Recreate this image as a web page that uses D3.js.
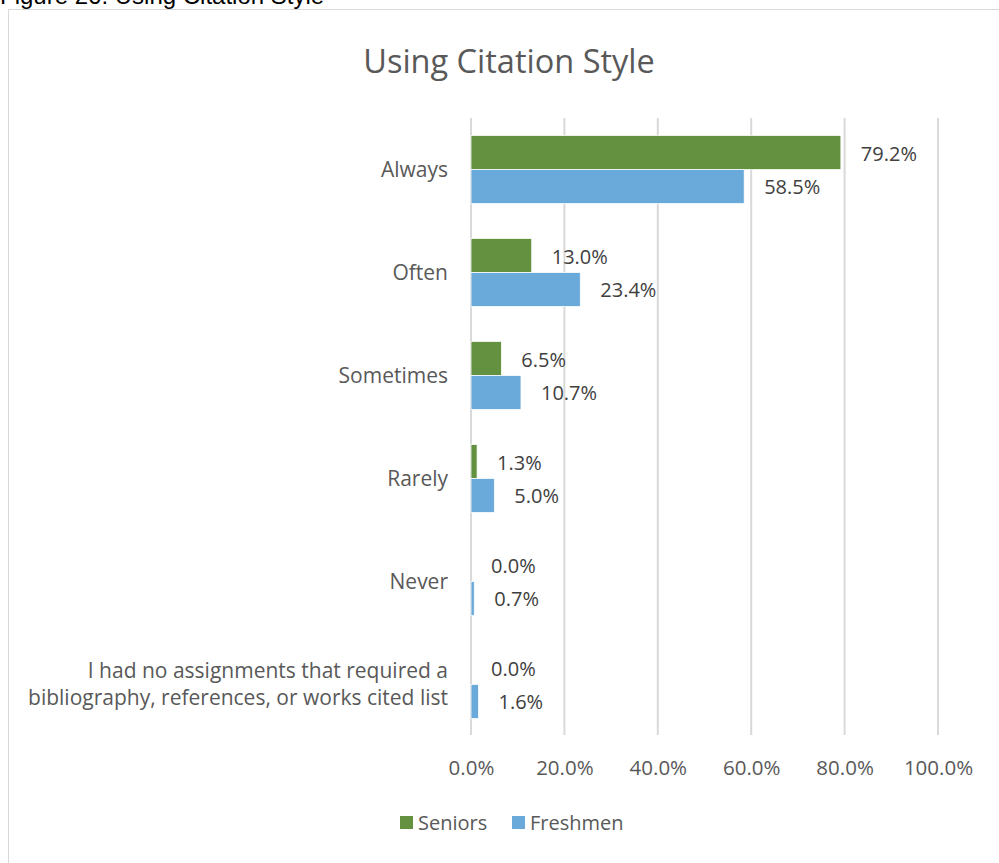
<!DOCTYPE html>
<html><head><meta charset="utf-8">
<script src="https://cdn.jsdelivr.net/npm/d3@7"></script>
<style>
html,body{margin:0;padding:0;background:#fff;}
svg{display:block;}
</style></head>
<body>
<svg id="chart" width="999" height="863"></svg>
<script>
const categories = ["Always","Often","Sometimes","Rarely","Never","I had no assignments that required a|bibliography, references, or works cited list"];
const seriesNames = ["Seniors","Freshmen"];
const seniors = [79.2, 13.0, 6.5, 1.3, 0.0, 0.0];
const freshmen = [58.5, 23.4, 10.7, 5.0, 0.7, 1.6];
const tickValues = [0, 20, 40, 60, 80, 100];
const colors = ["#63913F", "#6AAADB"];
const font = "'Open Sans', sans-serif";
const textColor = "#595959";

const svg = d3.select("#chart");

// caption (cut off at top)
svg.append("text").attr("x", 0).attr("y", 4)
  .attr("font-family", "'Liberation Sans', Arial, sans-serif").attr("font-size", 24)
  .attr("fill", "#000").text("Figure 26: Using Citation Style");

// chart border
svg.append("rect").attr("x", 8.5).attr("y", 9.5).attr("width", 1100).attr("height", 1000)
  .attr("fill", "none").attr("stroke", "#d9d9d9").attr("stroke-width", 1);

// title
svg.append("text").attr("x", 509).attr("y", 73).attr("text-anchor", "middle")
  .attr("font-family", font).attr("font-size", 32.5).attr("fill", textColor)
  .text("Using Citation Style");

const x = d3.scaleLinear().domain([0, 100]).range([471, 938]);
const y = d3.scaleBand().domain(categories).range([118, 736]).paddingInner(0.34).paddingOuter(0.17);
const ySub = d3.scaleBand().domain(seriesNames).range([0, y.bandwidth()]);

// gridlines
svg.append("g").selectAll("line").data(tickValues).join("line")
  .attr("x1", d => x(d)).attr("x2", d => x(d))
  .attr("y1", 118).attr("y2", 735)
  .attr("stroke", "#d9d9d9").attr("stroke-width", 2);

// x axis labels
const xAxis = d3.axisBottom(x).tickValues(tickValues).tickFormat(d => d.toFixed(1) + "%").tickSize(0).tickPadding(0);
const gx = svg.append("g").attr("transform", "translate(0,760)").call(xAxis);
gx.select(".domain").remove();
gx.selectAll("text").attr("font-family", font).attr("font-size", 20.5).attr("fill", textColor);

// y axis labels
const yAxis = d3.axisLeft(y).tickSize(0).tickPadding(0).tickFormat(() => "");
const gy = svg.append("g").attr("transform", "translate(448,0)").call(yAxis);
gy.select(".domain").remove();
gy.selectAll(".tick").each(function(d) {
  const lines = d.split("|");
  const t = d3.select(this).append("text").attr("text-anchor", "end")
    .attr("font-family", font).attr("font-size", 21).attr("fill", textColor)
    .attr("x", 0);
  const lh = 27;
  const y0 = -(lines.length - 1) * lh / 2;
  lines.forEach((l, i) => {
    t.append("tspan").attr("x", 0).attr("y", y0 + i * lh).attr("dy", "0.35em").text(l);
  });
});

// bars
const series = [seniors, freshmen];
series.forEach((vals, si) => {
  const g = svg.append("g");
  g.selectAll("rect").data(vals).join("rect")
    .attr("x", x(0))
    .attr("y", (d, i) => y(categories[i]) + ySub(seriesNames[si]))
    .attr("width", d => x(d) - x(0))
    .attr("height", ySub.bandwidth())
    .attr("fill", colors[si])
    .attr("stroke", "#fff").attr("stroke-width", 0.75);
  g.selectAll("text").data(vals).join("text")
    .attr("x", d => x(d) + 20)
    .attr("y", (d, i) => y(categories[i]) + ySub(seriesNames[si]) + ySub.bandwidth() / 2 + 1)
    .attr("dy", "0.35em")
    .attr("font-family", font).attr("font-size", 20).attr("fill", "#404040")
    .text(d => d.toFixed(1) + "%");
});

// legend
const legend = svg.append("g").attr("transform", "translate(400,816)");
const legX = [0, 112];
seriesNames.forEach((n, i) => {
  legend.append("rect").attr("x", legX[i]).attr("y", 0).attr("width", 13).attr("height", 13).attr("fill", colors[i]);
  legend.append("text").attr("x", legX[i] + 18).attr("y", 7).attr("dy", "0.35em")
    .attr("font-family", font).attr("font-size", 20).attr("fill", textColor).text(n);
});
</script>
</body></html>
